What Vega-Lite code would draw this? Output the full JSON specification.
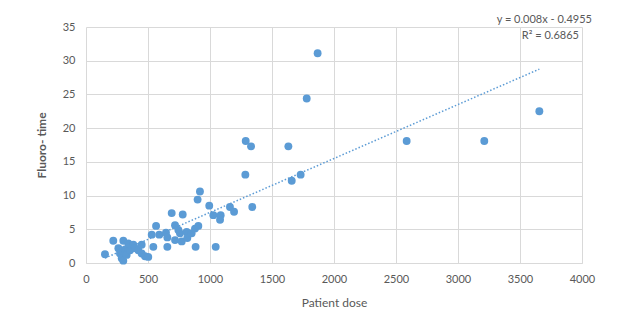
{
  "$schema": "https://vega.github.io/schema/vega-lite/v6.json",
  "width": 496,
  "height": 236,
  "autosize": "none",
  "padding": {"left": 86, "top": 27, "right": 39, "bottom": 60},
  "background": "white",
  "config": {
    "view": {"stroke": null},
    "font": "Lato",
    "axis": {
      "gridColor": "#d9d9d9",
      "gridWidth": 1,
      "labelColor": "#595959",
      "labelFontSize": 11,
      "titleColor": "#595959",
      "titleFontSize": 12,
      "titleFontWeight": "normal",
      "ticks": false,
      "labelOverlap": false
    }
  },
  "datasets": {
    "points": [
      {"dose": 153, "time": 1.3},
      {"dose": 220, "time": 3.3},
      {"dose": 261, "time": 2.2},
      {"dose": 274, "time": 1.4},
      {"dose": 288, "time": 0.7},
      {"dose": 301, "time": 0.35},
      {"dose": 301, "time": 3.3},
      {"dose": 315, "time": 2.0},
      {"dose": 328, "time": 1.2},
      {"dose": 341, "time": 2.9},
      {"dose": 355, "time": 1.9},
      {"dose": 382, "time": 2.7},
      {"dose": 395, "time": 2.2},
      {"dose": 422, "time": 1.9},
      {"dose": 449, "time": 2.7},
      {"dose": 449, "time": 1.4},
      {"dose": 476, "time": 1.0},
      {"dose": 502, "time": 0.9},
      {"dose": 530, "time": 4.2},
      {"dose": 543, "time": 2.4},
      {"dose": 565, "time": 5.5},
      {"dose": 591, "time": 4.2},
      {"dose": 645, "time": 4.5},
      {"dose": 656, "time": 3.8},
      {"dose": 656, "time": 2.4},
      {"dose": 691, "time": 7.4},
      {"dose": 718, "time": 5.6},
      {"dose": 718, "time": 3.4},
      {"dose": 745, "time": 4.9},
      {"dose": 758, "time": 4.4},
      {"dose": 772, "time": 3.2},
      {"dose": 780, "time": 7.2},
      {"dose": 812, "time": 4.6},
      {"dose": 817, "time": 3.7},
      {"dose": 852, "time": 4.4},
      {"dose": 879, "time": 5.1},
      {"dose": 884, "time": 2.4},
      {"dose": 906, "time": 5.5},
      {"dose": 919, "time": 10.6},
      {"dose": 900, "time": 9.4},
      {"dose": 994, "time": 8.5},
      {"dose": 1027, "time": 7.1},
      {"dose": 1046, "time": 2.4},
      {"dose": 1086, "time": 7.1},
      {"dose": 1081, "time": 6.4},
      {"dose": 1161, "time": 8.3},
      {"dose": 1194, "time": 7.6},
      {"dose": 1341, "time": 8.3},
      {"dose": 1285, "time": 13.1},
      {"dose": 1288, "time": 18.1},
      {"dose": 1331, "time": 17.3},
      {"dose": 1632, "time": 17.3},
      {"dose": 1659, "time": 12.2},
      {"dose": 1731, "time": 13.1},
      {"dose": 1780, "time": 24.4},
      {"dose": 1868, "time": 31.1},
      {"dose": 2586, "time": 18.1},
      {"dose": 3212, "time": 18.1},
      {"dose": 3656, "time": 22.5}
    ],
    "trend": [
      {"dose": 153, "time": 0.73},
      {"dose": 3656, "time": 28.75}
    ],
    "labels": [
      {"dose": 4080, "time": 36.1, "label": "y = 0.008x - 0.4955"},
      {"dose": 3975, "time": 33.6, "label": "R² = 0.6865"}
    ]
  },
  "encoding": {
    "x": {
      "field": "dose", "type": "quantitative",
      "scale": {"domain": [0, 4000], "nice": false},
      "axis": {"values": [0, 500, 1000, 1500, 2000, 2500, 3000, 3500, 4000], "format": "d", "title": "Patient dose", "labelPadding": 10, "titlePadding": 13, "domainColor": "#d9d9d9", "labelFlush": false}
    },
    "y": {
      "field": "time", "type": "quantitative",
      "scale": {"domain": [0, 35], "nice": false},
      "axis": {"values": [0, 5, 10, 15, 20, 25, 30, 35], "format": "d", "title": "Fluoro- time", "titleFontWeight": "bold", "labelPadding": 11, "titlePadding": 14, "domain": false}
    }
  },
  "layer": [
    {
      "data": {"name": "points"},
      "mark": {"type": "point", "filled": true, "opacity": 1, "color": "#5b9bd5", "size": 62}
    },
    {
      "data": {"name": "trend"},
      "mark": {"type": "line", "color": "#5b9bd5", "strokeWidth": 1.5, "strokeDash": [1.5, 2]}
    },
    {
      "data": {"name": "labels"},
      "mark": {"type": "text", "color": "#595959", "fontSize": 11, "align": "right", "clip": false},
      "encoding": {
        "text": {"field": "label"}
      }
    }
  ]
}
